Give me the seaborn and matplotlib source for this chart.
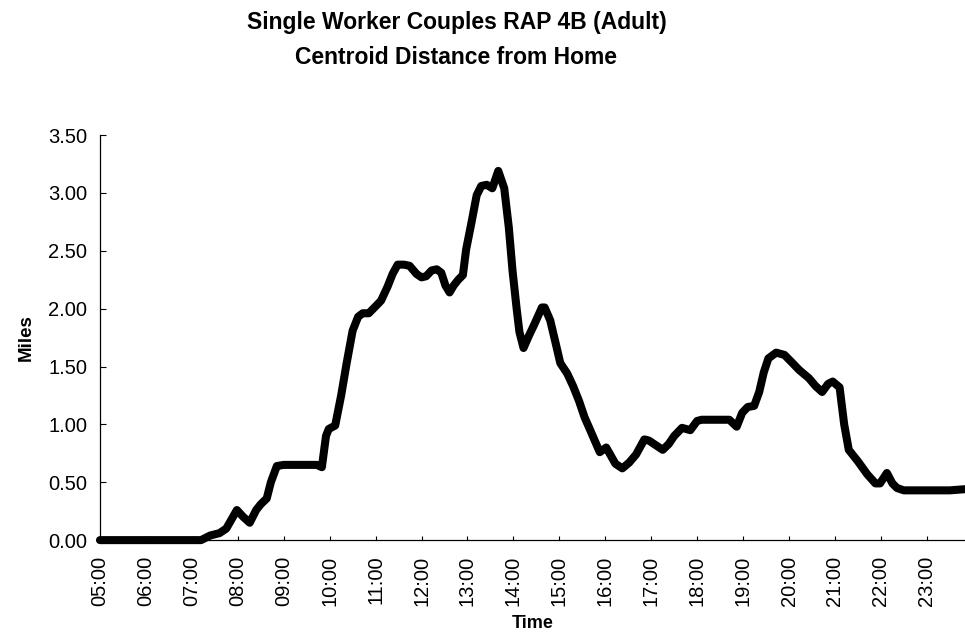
import matplotlib
matplotlib.use("Agg")
import matplotlib.pyplot as plt
from matplotlib.ticker import FormatStrFormatter
import pandas as pd
import seaborn as sns

# Average centroid distance from home (miles) over the day, time in decimal hours
hours = [
    5.00, 7.20, 7.40, 7.60, 7.75, 7.98, 8.12, 8.26, 8.40, 8.50, 8.63, 8.72,
    8.85, 9.00, 9.40, 9.72, 9.83, 9.92, 9.98, 10.12, 10.25, 10.37, 10.50,
    10.62, 10.72, 10.85, 11.00, 11.12, 11.26, 11.37, 11.48, 11.62, 11.74,
    11.89, 12.00, 12.10, 12.22, 12.33, 12.43, 12.52, 12.61, 12.70, 12.80,
    12.90, 12.97, 13.09, 13.20, 13.30, 13.42, 13.54, 13.67, 13.80, 13.90,
    13.98, 14.07, 14.13, 14.22, 14.33, 14.45, 14.62, 14.68, 14.80, 14.92,
    15.02, 15.17, 15.30, 15.43, 15.55, 15.65, 15.77, 15.88, 16.02, 16.12,
    16.22, 16.37, 16.52, 16.67, 16.85, 16.95, 17.10, 17.25, 17.38, 17.50,
    17.67, 17.85, 18.00, 18.10, 18.40, 18.70, 18.86, 18.98, 19.10, 19.24,
    19.35, 19.45, 19.55, 19.72, 19.90, 20.05, 20.22, 20.43, 20.58, 20.72,
    20.85, 20.95, 21.10, 21.20, 21.30, 21.50, 21.70, 21.88, 21.98, 22.13,
    22.25, 22.35, 22.50, 23.00, 23.50, 23.83,
]
miles = [
    0.00, 0.00, 0.04, 0.06, 0.10, 0.26, 0.20, 0.15, 0.26, 0.31, 0.36, 0.50,
    0.64, 0.65, 0.65, 0.65, 0.63, 0.90, 0.96, 0.99, 1.25, 1.53, 1.81,
    1.93, 1.96, 1.96, 2.02, 2.07, 2.19, 2.30, 2.38, 2.38, 2.37,
    2.30, 2.27, 2.28, 2.33, 2.34, 2.31, 2.20, 2.14, 2.20, 2.25,
    2.29, 2.51, 2.75, 2.98, 3.06, 3.07, 3.04, 3.19, 3.04, 2.70,
    2.33, 2.00, 1.80, 1.66, 1.76, 1.86, 2.01, 2.01, 1.90, 1.70,
    1.53, 1.44, 1.33, 1.20, 1.06, 0.97, 0.86, 0.76, 0.80, 0.73,
    0.66, 0.62, 0.67, 0.74, 0.87, 0.86, 0.82, 0.78, 0.83, 0.90,
    0.97, 0.95, 1.03, 1.04, 1.04, 1.04, 0.98, 1.10, 1.15, 1.16,
    1.28, 1.45, 1.57, 1.62, 1.60, 1.54, 1.47, 1.40, 1.33, 1.28,
    1.35, 1.37, 1.32, 1.00, 0.78, 0.68, 0.57, 0.49, 0.49, 0.58,
    0.49, 0.45, 0.43, 0.43, 0.43, 0.44,
]

tick_hours = list(range(5, 24))
tick_labels = [
    "05:00", "06:00", "07:00", "08:00", "09:00", "10:00", "11:00", "12:00",
    "13:00", "14:00", "15:00", "16:00", "17:00", "18:00", "19:00", "20:00",
    "21:00", "22:00", "23:00",
]
y_ticks = [0.0, 0.5, 1.0, 1.5, 2.0, 2.5, 3.0, 3.5]

df = pd.DataFrame({"Time": hours, "Miles": miles})

sns.set_theme(style="white")
plt.rcParams["font.family"] = ["Liberation Sans", "DejaVu Sans"]
plt.rcParams["text.color"] = "black"
plt.rcParams["axes.labelcolor"] = "black"

fig = plt.figure(figsize=(9.65, 6.43), dpi=100)
ax = fig.add_axes([0.1036, 0.160, 0.8964, 0.630])

sns.lineplot(data=df, x="Time", y="Miles", color="black", linewidth=5.8,
             solid_joinstyle="round", solid_capstyle="round",
             clip_on=False, ax=ax)

ax.set_xlim(5, 23.83)
ax.set_ylim(0, 3.5)
ax.set_xticks(tick_hours)
ax.set_xticklabels(tick_labels, rotation=90, fontsize=14.5)
ax.set_yticks(y_ticks)
ax.yaxis.set_major_formatter(FormatStrFormatter("%.2f"))
ax.tick_params(axis="y", labelsize=14.5, direction="in", length=4, width=0.8,
               pad=9, left=True, colors="black")
ax.tick_params(axis="x", direction="in", length=3, width=0.8, pad=11,
               bottom=True, colors="black")

for side in ("top", "right"):
    ax.spines[side].set_visible(False)
for side in ("left", "bottom"):
    ax.spines[side].set_color("black")
    ax.spines[side].set_linewidth(0.9)

ax.set_xlabel("Time", fontsize=13, fontweight="bold", labelpad=7)
ax.set_ylabel("Miles", fontsize=13.5, fontweight="bold", labelpad=10)

fig.text(0.473, 0.965, "Single Worker Couples RAP 4B (Adult)", ha="center",
         va="center", fontsize=16.5, fontweight="bold", color="black")
fig.text(0.473, 0.910, "Centroid Distance from Home", ha="center",
         va="center", fontsize=16.5, fontweight="bold", color="black")

fig.savefig("out.png", dpi=100, facecolor="white")
